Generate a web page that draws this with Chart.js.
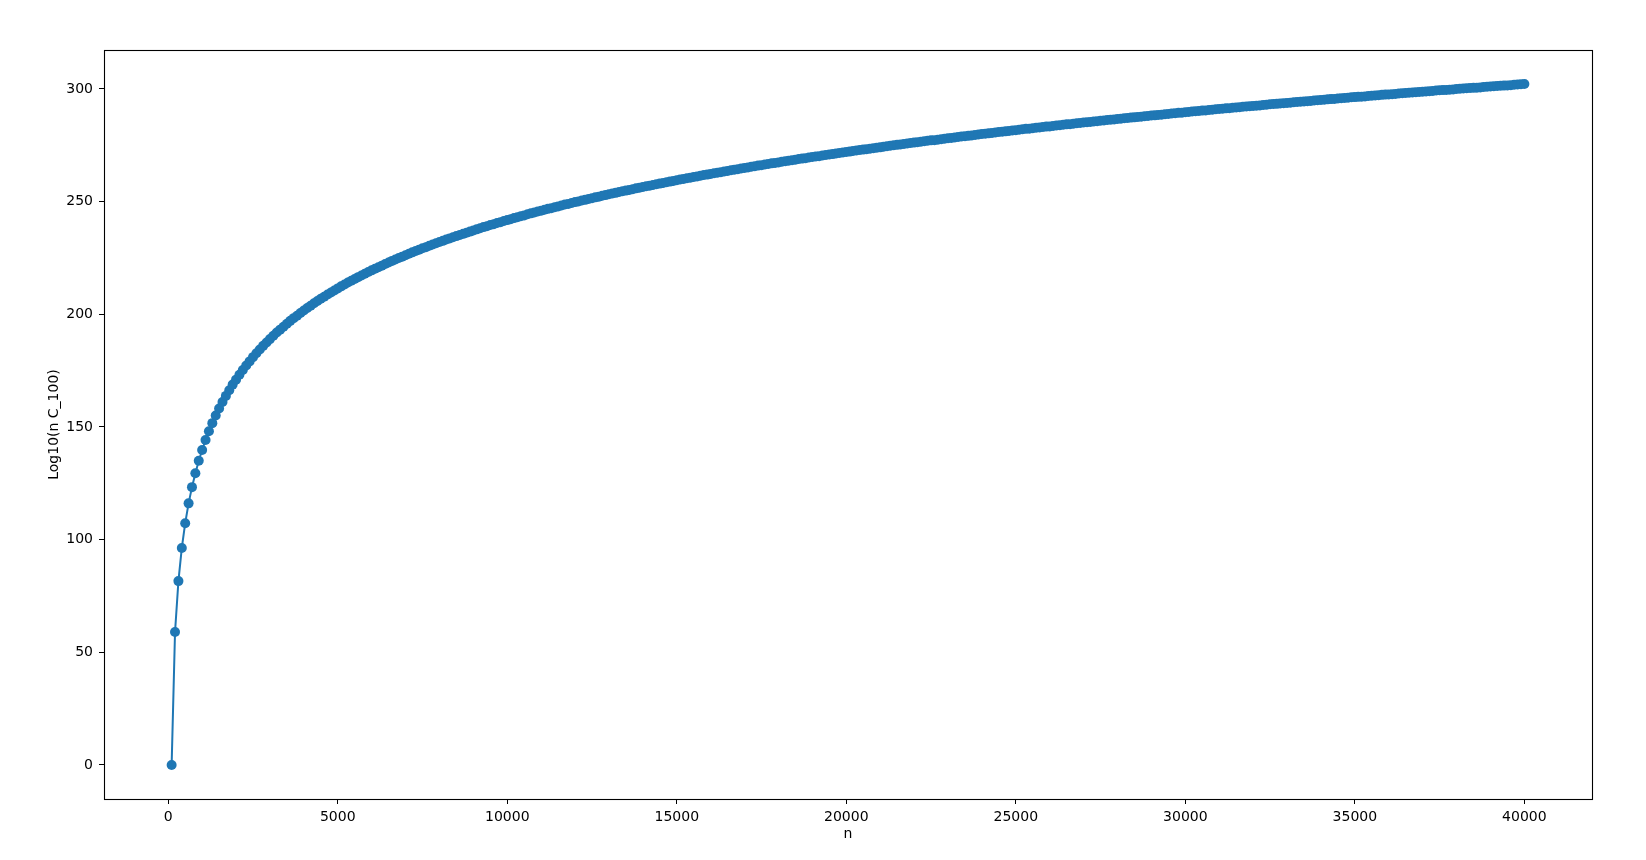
<!DOCTYPE html>
<html>
<head>
<meta charset="utf-8">
<script src="https://cdn.jsdelivr.net/npm/chart.js@4/dist/chart.umd.min.js"></script>
<style>
  html, body { margin: 0; padding: 0; background: #fff; }
  canvas { display: block; }
</style>
</head>
<body>
<canvas id="chart" width="1646" height="860"></canvas>
<script>
// n values on the x axis
const nValues = [
  100, 200, 300, 400, 500, 600, 700, 800, 900, 1000,
  1100, 1200, 1300, 1400, 1500, 1600, 1700, 1800, 1900, 2000,
  2100, 2200, 2300, 2400, 2500, 2600, 2700, 2800, 2900, 3000,
  3100, 3200, 3300, 3400, 3500, 3600, 3700, 3800, 3900, 4000,
  4100, 4200, 4300, 4400, 4500, 4600, 4700, 4800, 4900, 5000,
  5100, 5200, 5300, 5400, 5500, 5600, 5700, 5800, 5900, 6000,
  6100, 6200, 6300, 6400, 6500, 6600, 6700, 6800, 6900, 7000,
  7100, 7200, 7300, 7400, 7500, 7600, 7700, 7800, 7900, 8000,
  8100, 8200, 8300, 8400, 8500, 8600, 8700, 8800, 8900, 9000,
  9100, 9200, 9300, 9400, 9500, 9600, 9700, 9800, 9900, 10000,
  10100, 10200, 10300, 10400, 10500, 10600, 10700, 10800, 10900, 11000,
  11100, 11200, 11300, 11400, 11500, 11600, 11700, 11800, 11900, 12000,
  12100, 12200, 12300, 12400, 12500, 12600, 12700, 12800, 12900, 13000,
  13100, 13200, 13300, 13400, 13500, 13600, 13700, 13800, 13900, 14000,
  14100, 14200, 14300, 14400, 14500, 14600, 14700, 14800, 14900, 15000,
  15100, 15200, 15300, 15400, 15500, 15600, 15700, 15800, 15900, 16000,
  16100, 16200, 16300, 16400, 16500, 16600, 16700, 16800, 16900, 17000,
  17100, 17200, 17300, 17400, 17500, 17600, 17700, 17800, 17900, 18000,
  18100, 18200, 18300, 18400, 18500, 18600, 18700, 18800, 18900, 19000,
  19100, 19200, 19300, 19400, 19500, 19600, 19700, 19800, 19900, 20000,
  20100, 20200, 20300, 20400, 20500, 20600, 20700, 20800, 20900, 21000,
  21100, 21200, 21300, 21400, 21500, 21600, 21700, 21800, 21900, 22000,
  22100, 22200, 22300, 22400, 22500, 22600, 22700, 22800, 22900, 23000,
  23100, 23200, 23300, 23400, 23500, 23600, 23700, 23800, 23900, 24000,
  24100, 24200, 24300, 24400, 24500, 24600, 24700, 24800, 24900, 25000,
  25100, 25200, 25300, 25400, 25500, 25600, 25700, 25800, 25900, 26000,
  26100, 26200, 26300, 26400, 26500, 26600, 26700, 26800, 26900, 27000,
  27100, 27200, 27300, 27400, 27500, 27600, 27700, 27800, 27900, 28000,
  28100, 28200, 28300, 28400, 28500, 28600, 28700, 28800, 28900, 29000,
  29100, 29200, 29300, 29400, 29500, 29600, 29700, 29800, 29900, 30000,
  30100, 30200, 30300, 30400, 30500, 30600, 30700, 30800, 30900, 31000,
  31100, 31200, 31300, 31400, 31500, 31600, 31700, 31800, 31900, 32000,
  32100, 32200, 32300, 32400, 32500, 32600, 32700, 32800, 32900, 33000,
  33100, 33200, 33300, 33400, 33500, 33600, 33700, 33800, 33900, 34000,
  34100, 34200, 34300, 34400, 34500, 34600, 34700, 34800, 34900, 35000,
  35100, 35200, 35300, 35400, 35500, 35600, 35700, 35800, 35900, 36000,
  36100, 36200, 36300, 36400, 36500, 36600, 36700, 36800, 36900, 37000,
  37100, 37200, 37300, 37400, 37500, 37600, 37700, 37800, 37900, 38000,
  38100, 38200, 38300, 38400, 38500, 38600, 38700, 38800, 38900, 39000,
  39100, 39200, 39300, 39400, 39500, 39600, 39700, 39800, 39900, 40000
];

// log10 of n choose 100
const logBinom = [
  0, 59.0, 81.6, 96.3, 107.3, 116.1, 123.3, 129.5, 135.0, 139.8,
  144.2, 148.1, 151.7, 155.1, 158.2, 161.1, 163.8, 166.3, 168.8, 171.0,
  173.2, 175.3, 177.3, 179.1, 181.0, 182.7, 184.4, 186.0, 187.5, 189.0,
  190.5, 191.9, 193.2, 194.5, 195.8, 197.1, 198.3, 199.4, 200.6, 201.7,
  202.8, 203.8, 204.9, 205.9, 206.9, 207.8, 208.8, 209.7, 210.6, 211.5,
  212.4, 213.2, 214.1, 214.9, 215.7, 216.5, 217.2, 218.0, 218.8, 219.5,
  220.2, 220.9, 221.6, 222.3, 223.0, 223.7, 224.3, 225.0, 225.6, 226.2,
  226.9, 227.5, 228.1, 228.7, 229.3, 229.8, 230.4, 231.0, 231.5, 232.1,
  232.6, 233.2, 233.7, 234.2, 234.7, 235.2, 235.7, 236.2, 236.7, 237.2,
  237.7, 238.2, 238.7, 239.1, 239.6, 240.0, 240.5, 240.9, 241.4, 241.8,
  242.2, 242.7, 243.1, 243.5, 243.9, 244.4, 244.8, 245.2, 245.6, 246.0,
  246.4, 246.8, 247.1, 247.5, 247.9, 248.3, 248.7, 249.0, 249.4, 249.8,
  250.1, 250.5, 250.8, 251.2, 251.5, 251.9, 252.2, 252.6, 252.9, 253.3,
  253.6, 253.9, 254.3, 254.6, 254.9, 255.2, 255.5, 255.9, 256.2, 256.5,
  256.8, 257.1, 257.4, 257.7, 258.0, 258.3, 258.6, 258.9, 259.2, 259.5,
  259.8, 260.1, 260.4, 260.6, 260.9, 261.2, 261.5, 261.8, 262.0, 262.3,
  262.6, 262.8, 263.1, 263.4, 263.6, 263.9, 264.2, 264.4, 264.7, 264.9,
  265.2, 265.5, 265.7, 266.0, 266.2, 266.5, 266.7, 267.0, 267.2, 267.4,
  267.7, 267.9, 268.2, 268.4, 268.6, 268.9, 269.1, 269.3, 269.6, 269.8,
  270.0, 270.2, 270.5, 270.7, 270.9, 271.1, 271.4, 271.6, 271.8, 272.0,
  272.2, 272.5, 272.7, 272.9, 273.1, 273.3, 273.5, 273.7, 273.9, 274.1,
  274.4, 274.6, 274.8, 275.0, 275.2, 275.4, 275.6, 275.8, 276.0, 276.2,
  276.4, 276.6, 276.8, 277.0, 277.2, 277.3, 277.5, 277.7, 277.9, 278.1,
  278.3, 278.5, 278.7, 278.9, 279.0, 279.2, 279.4, 279.6, 279.8, 280.0,
  280.1, 280.3, 280.5, 280.7, 280.9, 281.0, 281.2, 281.4, 281.6, 281.7,
  281.9, 282.1, 282.3, 282.4, 282.6, 282.8, 282.9, 283.1, 283.3, 283.4,
  283.6, 283.8, 283.9, 284.1, 284.3, 284.4, 284.6, 284.8, 284.9, 285.1,
  285.2, 285.4, 285.6, 285.7, 285.9, 286.0, 286.2, 286.4, 286.5, 286.7,
  286.8, 287.0, 287.1, 287.3, 287.4, 287.6, 287.7, 287.9, 288.0, 288.2,
  288.3, 288.5, 288.6, 288.8, 288.9, 289.1, 289.2, 289.4, 289.5, 289.7,
  289.8, 290.0, 290.1, 290.2, 290.4, 290.5, 290.7, 290.8, 291.0, 291.1,
  291.2, 291.4, 291.5, 291.7, 291.8, 291.9, 292.1, 292.2, 292.3, 292.5,
  292.6, 292.7, 292.9, 293.0, 293.2, 293.3, 293.4, 293.6, 293.7, 293.8,
  293.9, 294.1, 294.2, 294.3, 294.5, 294.6, 294.7, 294.9, 295.0, 295.1,
  295.2, 295.4, 295.5, 295.6, 295.8, 295.9, 296.0, 296.1, 296.3, 296.4,
  296.5, 296.6, 296.7, 296.9, 297.0, 297.1, 297.2, 297.4, 297.5, 297.6,
  297.7, 297.8, 298.0, 298.1, 298.2, 298.3, 298.4, 298.6, 298.7, 298.8,
  298.9, 299.0, 299.1, 299.3, 299.4, 299.5, 299.6, 299.7, 299.8, 300.0,
  300.1, 300.2, 300.3, 300.4, 300.5, 300.6, 300.7, 300.9, 301.0, 301.1,
  301.2, 301.3, 301.4, 301.5, 301.6, 301.7, 301.9, 302.0, 302.1, 302.2
];

const xTicks = [0, 5000, 10000, 15000, 20000, 25000, 30000, 35000, 40000];
const yTicks = [0, 50, 100, 150, 200, 250, 300];

const FONT = { family: '"DejaVu Sans", sans-serif', size: 14 };
const BLUE = '#1f77b4';

// box around the plot area (all four sides, like the matplotlib spines)
const frame = {
  id: 'frame',
  afterDraw(chart) {
    const { ctx, chartArea: a } = chart;
    ctx.save();
    ctx.strokeStyle = '#000';
    ctx.lineWidth = 1.1;
    ctx.strokeRect(a.left + 0.5, a.top + 0.5, a.right - a.left, a.bottom - a.top);
    ctx.restore();
  }
};

new Chart(document.getElementById('chart').getContext('2d'), {
  type: 'line',
  data: {
    datasets: [{
      data: nValues.map((n, i) => ({ x: n, y: logBinom[i] })),
      borderColor: BLUE,
      borderWidth: 2,
      backgroundColor: BLUE,
      pointBackgroundColor: BLUE,
      pointBorderColor: BLUE,
      pointBorderWidth: 0,
      pointRadius: 5,
      tension: 0,
      fill: false,
    }],
  },
  options: {
    responsive: false,
    animation: false,
    devicePixelRatio: 1,
    layout: { padding: { left: 0, top: 50, right: 54, bottom: 0 } },
    plugins: {
      legend: { display: false },
      tooltip: { enabled: false },
    },
    scales: {
      x: {
        type: 'linear',
        min: -1895,
        max: 41995,
        afterBuildTicks: scale => { scale.ticks = xTicks.map(v => ({ value: v })); },
        afterFit: scale => { scale.height = 61; },
        grid: { display: true, drawOnChartArea: false, drawTicks: true, tickLength: 5, color: '#000', lineWidth: 1 },
        border: { display: false },
        ticks: { color: '#000', font: FONT, padding: 5, maxRotation: 0, callback: v => String(v) },
        title: { display: true, text: 'n', color: '#000', font: FONT, padding: { top: 0, bottom: 17 } },
      },
      y: {
        type: 'linear',
        min: -15.1,
        max: 317.3,
        afterBuildTicks: scale => { scale.ticks = yTicks.map(v => ({ value: v })); },
        afterFit: scale => { scale.width = 104; },
        grid: { display: true, drawOnChartArea: false, drawTicks: true, tickLength: 5, color: '#000', lineWidth: 1 },
        border: { display: false },
        ticks: { color: '#000', font: FONT, padding: 6, callback: v => String(v) },
        title: { display: true, text: 'Log10(n C_100)', color: '#000', font: FONT, padding: { top: 46, bottom: 0 } },
      },
    },
  },
  plugins: [frame],
});
</script>
</body>
</html>
